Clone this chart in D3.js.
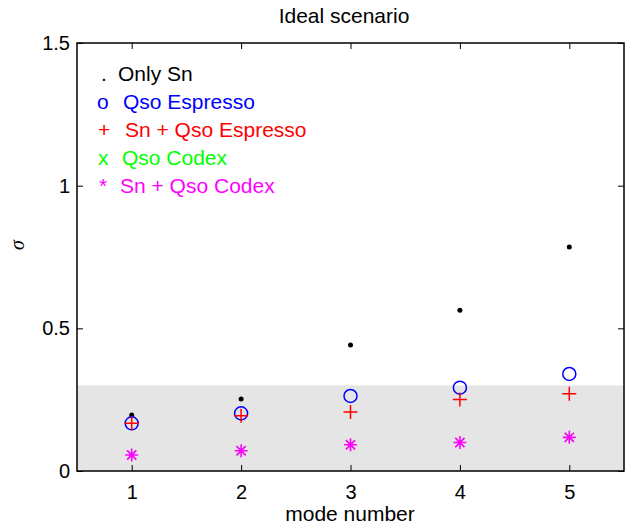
<!DOCTYPE html>
<html><head><meta charset="utf-8">
<script src="https://cdn.jsdelivr.net/npm/d3@7"></script>
<style>body{margin:0;background:#fff}text{font-family:"Liberation Sans",Arial,Helvetica,sans-serif}</style>
</head><body>
<svg id="c" width="631" height="527"></svg>
<script>
const modes = [1, 2, 3, 4, 5];
const onlySn = [0.196, 0.252, 0.442, 0.563, 0.785];
const qsoEspresso = [0.167, 0.202, 0.263, 0.292, 0.340];
const snQsoEspresso = [0.167, 0.194, 0.207, 0.251, 0.271];
const qsoCodex = [0.056, 0.071, 0.092, 0.100, 0.118];
const snQsoCodex = [0.056, 0.071, 0.092, 0.100, 0.118];
const xTicks = [1, 2, 3, 4, 5];
const yTicks = [0, 0.5, 1, 1.5];
const shadeRange = [0, 0.3];
const legendLabels = [". Only Sn", "o Qso Espresso", "+ Sn + Qso Espresso", "x Qso Codex", "* Sn + Qso Codex"];
const legendColors = ["#000000", "#0000ff", "#ff0000", "#00ff00", "#ff00ff"];

const svg = d3.select("#c");
const L = 77, R = 624, T = 43, B = 471;
const x = d3.scaleLinear().domain([0.5, 5.5]).range([L, R]);
const y = d3.scaleLinear().domain([0, 1.5]).range([B, T]);

svg.append("rect").attr("x", L).attr("y", y(shadeRange[1]))
  .attr("width", R - L).attr("height", y(shadeRange[0]) - y(shadeRange[1]))
  .attr("fill", "#e5e5e5");

const fmt = d => d3.format("")(d);
const tl = 6;
svg.append("g").attr("transform", `translate(0,${B})`)
  .call(d3.axisBottom(x).tickValues(xTicks).tickSizeInner(-tl).tickSizeOuter(0).tickPadding(14).tickFormat(fmt))
  .call(g => { g.select(".domain").remove(); g.selectAll("text").attr("font-size", 20).attr("fill", "#000").style("font-family","Liberation Sans, Arial"); g.selectAll("line").attr("stroke","#000"); });
svg.append("g").attr("transform", `translate(0,${T})`)
  .call(d3.axisTop(x).tickValues(xTicks).tickSizeInner(-tl).tickSizeOuter(0).tickFormat(""))
  .call(g => { g.select(".domain").remove(); g.selectAll("line").attr("stroke","#000"); });
svg.append("g").attr("transform", `translate(${L},0)`)
  .call(d3.axisLeft(y).tickValues(yTicks).tickSizeInner(-tl).tickSizeOuter(0).tickPadding(7).tickFormat(fmt))
  .call(g => { g.select(".domain").remove(); g.selectAll("text").attr("font-size", 20).attr("fill", "#000").style("font-family","Liberation Sans, Arial"); g.selectAll("line").attr("stroke","#000"); });
svg.append("g").attr("transform", `translate(${R},0)`)
  .call(d3.axisRight(y).tickValues(yTicks).tickSizeInner(-tl).tickSizeOuter(0).tickFormat(""))
  .call(g => { g.select(".domain").remove(); g.selectAll("line").attr("stroke","#000"); });
svg.append("rect").attr("x", L).attr("y", T).attr("width", R - L).attr("height", B - T)
  .attr("fill", "none").attr("stroke", "#000").attr("stroke-width", 1.5);

const dataOf = arr => modes.map((m, i) => ({m, v: arr[i]}));
svg.append("g").selectAll("circle").data(dataOf(onlySn)).join("circle")
  .attr("cx", d => x(d.m)).attr("cy", d => y(d.v)).attr("r", 2.5).attr("fill", "#000");
svg.append("g").selectAll("circle").data(dataOf(qsoEspresso)).join("circle")
  .attr("cx", d => x(d.m)).attr("cy", d => y(d.v)).attr("r", 6.5)
  .attr("fill", "none").attr("stroke", "#0000ff").attr("stroke-width", 1.5);
const s = 7;
svg.append("g").selectAll("path").data(dataOf(snQsoEspresso)).join("path")
  .attr("d", d => { const cx = x(d.m), cy = y(d.v); return `M${cx-s},${cy}H${cx+s}M${cx},${cy-s}V${cy+s}`; })
  .attr("stroke", "#ff0000").attr("stroke-width", 1.5).attr("fill", "none");
const sx = 4.4;
svg.append("g").selectAll("path").data(dataOf(qsoCodex)).join("path")
  .attr("d", d => { const cx = x(d.m), cy = y(d.v); return `M${cx-sx},${cy-sx}L${cx+sx},${cy+sx}M${cx-sx},${cy+sx}L${cx+sx},${cy-sx}`; })
  .attr("stroke", "#00ff00").attr("stroke-width", 1.2).attr("fill", "none");
const sa = 6.5, sd = 4.6;
svg.append("g").selectAll("path").data(dataOf(snQsoCodex)).join("path")
  .attr("d", d => { const cx = x(d.m), cy = y(d.v);
    return `M${cx-sa},${cy}H${cx+sa}M${cx},${cy-sa}V${cy+sa}M${cx-sd},${cy-sd}L${cx+sd},${cy+sd}M${cx-sd},${cy+sd}L${cx+sd},${cy-sd}`; })
  .attr("stroke", "#ff00ff").attr("stroke-width", 1.6).attr("fill", "none");

const legendX = [101, 97, 98, 98, 99];
const legendTextX = [118, 123, 125, 122, 120];
legendLabels.forEach((lab, i) => {
  const sym = lab.slice(0, 1), rest = lab.slice(2);
  const yy = 81 + i * 28;
  svg.append("text").attr("x", legendX[i]).attr("y", yy).attr("font-size", 21).attr("fill", legendColors[i]).text(sym);
  svg.append("text").attr("x", legendTextX[i]).attr("y", yy).attr("font-size", 21).attr("fill", legendColors[i]).text(rest);
});

svg.append("text").attr("x", 344).attr("y", 23).attr("text-anchor", "middle").attr("font-size", 21).text("Ideal scenario");
svg.append("text").attr("x", 350).attr("y", 521).attr("text-anchor", "middle").attr("font-size", 21).text("mode number");
svg.append("text").attr("transform", "translate(24,245) rotate(-90)").attr("text-anchor", "middle")
  .attr("font-size", 20).attr("font-style", "italic").style("font-family", "Liberation Serif, serif").text("σ");
</script>
</body></html>
